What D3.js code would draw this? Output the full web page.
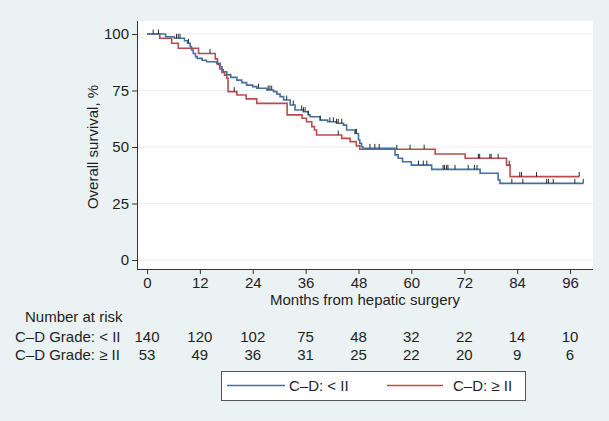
<!DOCTYPE html>
<html><head><meta charset="utf-8">
<script src="https://cdn.jsdelivr.net/npm/d3@7"></script>
<style>
body{margin:0;background:#eaf2f3}
svg{display:block}
text{font-family:"Liberation Sans",Arial,Helvetica,sans-serif;fill:#1e1e1e}
</style>
</head><body>
<svg id="chart" width="609" height="421"></svg>
<script>
// ---- data ----
const xTicks = [0, 12, 24, 36, 48, 60, 72, 84, 96];
const yTicks = [0, 25, 50, 75, 100];
const seriesNames = ["C\u2013D: < II", "C\u2013D: \u2265 II"];
const riskLabels = ["C\u2013D Grade: < II", "C\u2013D Grade: \u2265 II"];
const riskLow = [140, 120, 102, 75, 48, 32, 22, 14, 10];
const riskHigh = [53, 49, 36, 31, 25, 22, 20, 9, 6];

// Kaplan-Meier steps: time (months) at which survival drops to value (%)
const lowTimes = [0, 4.2, 6.2, 8.5, 9.2, 9.8, 10.1, 10.5, 11.0, 11.4, 12.5, 13.5, 15.8, 16.6, 17.0, 17.3, 18.1, 19.0, 20.4, 21.5, 22.6, 24.0, 24.9, 27.2, 28.7, 29.5, 30.2, 31.0, 32.5, 33.6, 35.5, 36.6, 37.0, 39.3, 41.0, 43.0, 44.6, 45.3, 47.2, 48.0, 48.3, 48.7, 49.0, 56.3, 57.0, 58.0, 60.0, 64.6, 75.6, 79.7, 80.1];
const lowSurv  = [100, 98.8, 98.1, 97.0, 95.9, 94.4, 92.9, 91.4, 90.0, 89.2, 88.4, 87.7, 87.0, 85.5, 84.2, 83.3, 81.9, 80.8, 79.6, 78.5, 77.4, 76.7, 76.0, 75.2, 74.5, 73.4, 72.3, 70.8, 68.6, 66.4, 65.6, 64.2, 63.4, 61.9, 61.2, 60.5, 59.7, 57.5, 56.0, 53.1, 51.6, 50.1, 49.4, 46.5, 45.0, 43.5, 42.0, 40.1, 38.4, 35.4, 33.9];
const lowEnd = 99.0;
const lowCensor = [1.4, 2.6, 6.7, 7.1, 7.5, 9.4, 25.3, 27.5, 27.9, 28.3, 31.7, 33.2, 35.1, 35.5, 35.9, 36.6, 39.3, 41.5, 42.3, 43.0, 43.4, 44.2, 47.4, 47.5, 50.6, 51.7, 52.7, 61.6, 62.7, 63.5, 67.2, 67.5, 68.0, 68.3, 69.9, 72.9, 74.3, 74.9, 82.8, 85.3, 90.7, 91.1, 92.2, 97.1, 99.0];

const highTimes = [0, 2.9, 5.6, 7.1, 11.7, 15.5, 16.0, 16.5, 17.0, 17.6, 18.1, 18.4, 20.4, 22.5, 24.9, 31.8, 35.2, 36.2, 37.4, 38.0, 38.5, 44.2, 46.1, 47.5, 48.3, 65.4, 72.2, 81.6, 82.4];
const highSurv  = [100, 98.1, 95.9, 93.7, 91.4, 89.0, 86.5, 84.5, 83.0, 81.8, 80.4, 74.5, 73.0, 71.3, 69.3, 64.2, 62.7, 61.2, 59.0, 57.5, 55.3, 53.8, 52.4, 50.5, 49.0, 46.9, 45.0, 42.0, 36.9];
const highEnd = 98.1;
const highCensor = [14.3, 19.8, 43.4, 56.7, 59.7, 62.9, 75.2, 75.5, 77.8, 78.1, 79.7, 82.2, 84.6, 85.0, 88.4, 98.1];

// ---- layout ----
const colors = ["#44709e", "#bb4a4d"];
const plot = {left: 137, right: 593, top: 21, bottom: 269};
const FS = 15;
const svg = d3.select("#chart");
const x = d3.scaleLinear().domain([0, 96]).range([147, 570]);
const y = d3.scaleLinear().domain([0, 100]).range([260, 34]);

svg.append("rect").attr("width", 609).attr("height", 421).attr("fill", "#eaf2f3");
svg.append("rect").attr("x", plot.left).attr("y", plot.top)
  .attr("width", plot.right - plot.left).attr("height", plot.bottom - plot.top).attr("fill", "#fff");

// gridlines
svg.append("g").selectAll("line").data(yTicks).join("line")
  .attr("x1", plot.left).attr("x2", plot.right)
  .attr("y1", d => y(d)).attr("y2", d => y(d))
  .attr("stroke", "#eaf0f1").attr("stroke-width", 1);

// axes
const yAxis = svg.append("g").attr("transform", `translate(${plot.left},0)`)
  .call(d3.axisLeft(y).tickValues(yTicks).tickSize(5).tickPadding(3));
const xAxis = svg.append("g").attr("transform", `translate(0,${plot.bottom})`)
  .call(d3.axisBottom(x).tickValues(xTicks).tickSize(5).tickPadding(3));
[yAxis, xAxis].forEach(g => {
  g.select(".domain").remove();
  g.selectAll(".tick line").attr("stroke", "#333");
  g.selectAll(".tick text").attr("font-size", FS).attr("fill", "#1e1e1e")
    .attr("font-family", '"Liberation Sans",Arial,sans-serif');
});
svg.append("line").attr("x1", plot.left + 0.5).attr("x2", plot.left + 0.5)
  .attr("y1", plot.top).attr("y2", plot.bottom).attr("stroke", "#333");
svg.append("line").attr("x1", plot.left).attr("x2", plot.right)
  .attr("y1", plot.bottom + 0.5).attr("y2", plot.bottom + 0.5).attr("stroke", "#333");

svg.append("text").attr("transform", `translate(98,${y(50)}) rotate(-90)`)
  .attr("text-anchor", "middle").attr("font-size", FS).text("Overall survival, %");
svg.append("text").attr("x", 365).attr("y", 305)
  .attr("text-anchor", "middle").attr("font-size", FS).text("Months from hepatic surgery");

// curves
function stepPts(times, surv, end) {
  const pts = times.map((t, i) => [t, surv[i]]);
  pts.push([end, surv[surv.length - 1]]);
  return pts;
}
function survAt(times, surv, t) {
  let s = surv[0];
  for (let i = 0; i < times.length; i++) if (times[i] <= t) s = surv[i];
  return s;
}
const line = d3.line().x(d => x(d[0])).y(d => y(d[1])).curve(d3.curveStepAfter);
const groups = [
  {times: lowTimes, surv: lowSurv, end: lowEnd, censor: lowCensor},
  {times: highTimes, surv: highSurv, end: highEnd, censor: highCensor}
];
[1, 0].forEach(i => {
  const g = groups[i];
  svg.append("path").datum(stepPts(g.times, g.surv, g.end))
    .attr("d", line).attr("fill", "none").attr("stroke", colors[i]).attr("stroke-width", 1.6);
});
groups.forEach(g => {
  svg.append("g").selectAll("line").data(g.censor).join("line")
    .attr("x1", d => x(d)).attr("x2", d => x(d))
    .attr("y1", d => y(survAt(g.times, g.surv, d)))
    .attr("y2", d => y(survAt(g.times, g.surv, d)) - 4.5)
    .attr("stroke", "#2a2a2a").attr("stroke-width", 1);
});

// number at risk
svg.append("text").attr("x", 25).attr("y", 322).attr("font-size", FS).text("Number at risk");
[riskLow, riskHigh].forEach((arr, r) => {
  const yy = 342 + r * 18;
  svg.append("text").attr("x", 15).attr("y", yy).attr("font-size", FS).text(riskLabels[r]);
  svg.append("g").selectAll("text").data(arr).join("text")
    .attr("x", (d, i) => x(xTicks[i])).attr("y", yy)
    .attr("text-anchor", "middle").attr("font-size", FS).text(d => d);
});

// legend
const lg = svg.append("g");
lg.append("rect").attr("x", 221.5).attr("y", 371.5).attr("width", 304).attr("height", 29)
  .attr("fill", "#fff").attr("stroke", "#555").attr("stroke-width", 1);
const legX = [[227, 285, 289], [387, 443, 453]];
seriesNames.forEach((n, i) => {
  lg.append("line").attr("x1", legX[i][0]).attr("x2", legX[i][1]).attr("y1", 385.5).attr("y2", 385.5)
    .attr("stroke", colors[i]).attr("stroke-width", 1.6);
  lg.append("text").attr("x", legX[i][2]).attr("y", 391).attr("font-size", FS).text(n);
});
</script>
</body></html>
